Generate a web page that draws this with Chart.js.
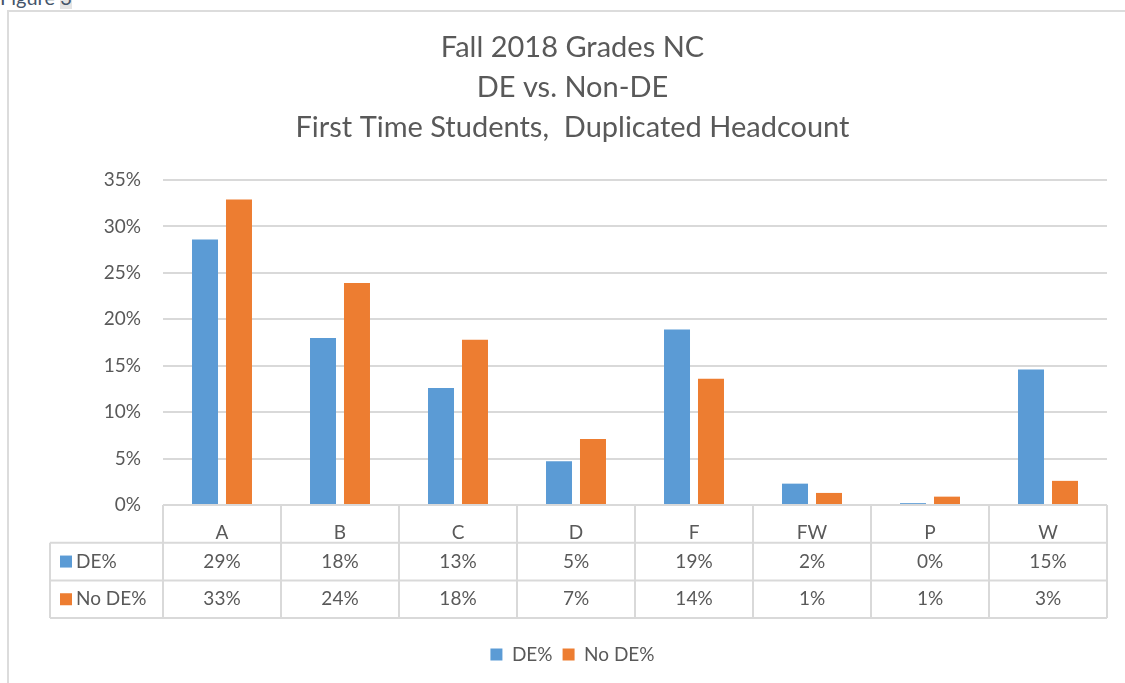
<!DOCTYPE html>
<html>
<head>
<meta charset="utf-8">
<script src="https://cdn.jsdelivr.net/npm/chart.js@4/dist/chart.umd.min.js"></script>
<style>
  body { margin: 0; background: #fff; }
  #wrap { position: relative; width: 1125px; height: 683px; overflow: hidden; }
  #fig { position: absolute; left: 0; top: -15px; font: 20px Lato, sans-serif; color: #44546a; }
  #fig span { background: #e4e4e4; }
  #frame { position: absolute; left: 7px; top: 10px; width: 1130px; height: 700px;
           border-left: 2px solid #dcdcdc; border-top: 2px solid #dcdcdc; }
  canvas { position: absolute; left: 0; top: 0; }
</style>
</head>
<body>
<div id="wrap">
  <div id="fig">Figure <span>3</span></div>
  <div id="frame"></div>
  <canvas id="gradeChart" width="1125" height="683"></canvas>
</div>
<script>
// grades on the x axis
const grades = ['A', 'B', 'C', 'D', 'F', 'FW', 'P', 'W'];
// percent of first time students
const dePct = [28.6, 18.0, 12.6, 4.7, 18.9, 2.3, 0.2, 14.6];
const noDePct = [32.9, 23.9, 17.8, 7.1, 13.6, 1.3, 0.9, 2.6];
const yTicks = [0, 5, 10, 15, 20, 25, 30, 35];

const textColor = '#595959';
const lineColor = '#d9d9d9';
const blue = '#5b9bd5';
const orange = '#ed7d31';

// draws the data table under the bars (Excel style)
const dataTable = {
    id: 'dataTable',
    afterDraw(chart) {
        const c = chart.ctx;
        const x = chart.scales.x;
        const top = chart.chartArea.bottom;
        const rowH = 37.7;
        const legendLeft = 50;
        const colW = (x.right - x.left) / grades.length;
        c.save();
        c.strokeStyle = lineColor;
        c.lineWidth = 2;
        c.beginPath();
        // header row
        c.moveTo(x.left, top); c.lineTo(x.right, top);
        // rows
        for (let r = 1; r <= 3; r++) {
            c.moveTo(legendLeft, top + r * rowH); c.lineTo(x.right, top + r * rowH);
        }
        for (let i = 0; i <= grades.length; i++) {
            c.moveTo(x.left + i * colW, top); c.lineTo(x.left + i * colW, top + 3 * rowH);
        }
        c.moveTo(legendLeft, top + rowH); c.lineTo(legendLeft, top + 3 * rowH);
        c.stroke();

        c.font = '19px Lato';
        c.fillStyle = textColor;
        c.textBaseline = 'middle';
        chart.data.datasets.forEach((ds, r) => {
            const cy = top + (r + 1.5) * rowH;
            c.fillStyle = ds.backgroundColor;
            c.fillRect(legendLeft + 10, cy - 6, 12, 12);
            c.fillStyle = textColor;
            c.textAlign = 'left';
            c.fillText(ds.label, legendLeft + 26, cy);
            c.textAlign = 'center';
            ds.data.forEach((v, i) => {
                c.fillText(Math.round(v) + '%', x.getPixelForValue(i), cy);
            });
        });
        c.restore();
    }
};

const ctx = document.getElementById('gradeChart').getContext('2d');
const gradeChart = new Chart(ctx, {
    type: 'bar',
    data: {
        labels: grades,
        datasets: [
            { label: 'DE%', data: dePct, backgroundColor: blue },
            { label: 'No DE%', data: noDePct, backgroundColor: orange }
        ]
    },
    options: {
        responsive: false,
        animation: false,
        categoryPercentage: 0.576,
        barPercentage: 0.765,
        layout: { padding: { top: 28, left: 20, right: 0, bottom: 9 } },
        plugins: {
            title: {
                display: true,
                text: ['Fall 2018 Grades NC', 'DE vs. Non-DE', 'First Time Students,  Duplicated Headcount'],
                color: textColor,
                font: { family: 'Lato', size: 29, weight: 'normal', lineHeight: 1.38 },
                padding: { top: 0, bottom: 32 }
            },
            legend: {
                position: 'bottom',
                labels: {
                    color: textColor,
                    font: { family: 'Lato', size: 19 },
                    boxWidth: 12,
                    boxHeight: 12,
                    padding: 10
                }
            },
            tooltip: { enabled: false }
        },
        scales: {
            x: {
                grid: { display: false },
                border: { display: false },
                ticks: { color: textColor, font: { family: 'Lato', size: 19 }, padding: 8 },
                afterFit(s) { s.height = 130; }
            },
            y: {
                min: 0,
                max: 35,
                afterBuildTicks(s) { s.ticks = yTicks.map(v => ({ value: v })); },
                grid: { color: lineColor, lineWidth: 2, drawTicks: false },
                border: { display: false },
                ticks: {
                    color: textColor,
                    font: { family: 'Lato', size: 19 },
                    padding: 22,
                    callback: v => v + '%'
                },
                afterFit(s) { s.width = 143; }
            },
            y2: {
                position: 'right',
                grid: { display: false },
                border: { display: false },
                ticks: { display: false },
                afterFit(s) { s.width = 18; }
            }
        }
    },
    plugins: [dataTable]
});
</script>
</body>
</html>
